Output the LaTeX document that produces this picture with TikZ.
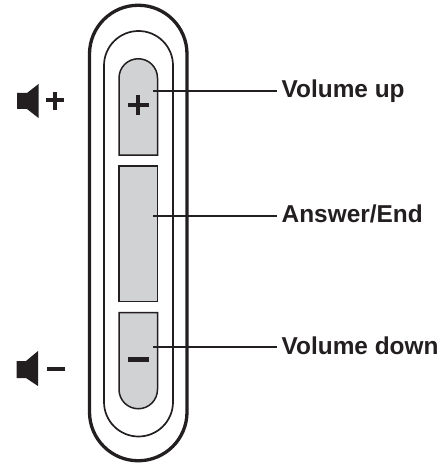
\documentclass[tikz,border=0pt]{standalone}
\usepackage{fontspec}
\setmainfont{Liberation Sans}
\definecolor{ink}{HTML}{231F20}
\definecolor{btn}{HTML}{D0D2D3}
\tikzset{
  lbl/.style={anchor=base west,inner sep=0pt,font=\fontsize{24.4}{26}\selectfont\bfseries,text=ink},
  leader/.style={draw=ink,line width=2pt},
  pill/.style={draw=ink,line width=1.5pt,fill=btn},
}
\begin{document}
\begin{tikzpicture}[x=1pt,y=-1pt]
\useasboundingbox (0,0) rectangle (445,468);
\fill[white] (0,0) rectangle (445,468);
% body
\draw[ink,line width=3.3pt] (89.5,54) arc[start angle=180,end angle=360,radius=48.75] -- (187,412) arc[start angle=0,end angle=180,radius=48.75] -- cycle;
\draw[ink,line width=1.7pt] (104,65.5) arc[start angle=180,end angle=360,radius=34.5] -- (173,402) arc[start angle=0,end angle=180,radius=34.5] -- cycle;
% buttons
\draw[pill] (119,78) arc[start angle=180,end angle=360,radius=19.25] -- (157.5,155) -- (119,155) -- cycle;
\draw[pill] (119,166) rectangle (157.5,301.5);
\draw[pill] (119,312.5) -- (157.5,312.5) -- (157.5,389.5) arc[start angle=0,end angle=180,radius=19.25] -- cycle;
% button signs
\fill[ink] (128,103) rectangle (149,107);
\fill[ink] (136,95) rectangle (140,115);
\fill[ink] (128,356.5) rectangle (149,361.5);
% speaker symbols
\fill[ink] (17,93) -- (27,93) -- (38.5,84) -- (38.5,118) -- (27,109) -- (17,109) -- cycle;
\fill[ink] (46,98.5) rectangle (64,102.5);
\fill[ink] (53,92) rectangle (57,110);
\fill[ink] (16.5,361) -- (26,361) -- (38,351) -- (38,386) -- (26,378) -- (16.5,378) -- cycle;
\fill[ink] (47,366.5) rectangle (65,371);
% labels
\node[lbl] (up) at (281.5,97.7) {Volume up};
\node[lbl] (ans) at (281.5,222.7) {Answer/End};
\node[lbl] (down) at (281.5,354.7) {Volume down};
\coordinate (a1) at (153,91);
\coordinate (a2) at (153,215.5);
\coordinate (a3) at (153,347);
\coordinate (b1) at (277,91);
\coordinate (b2) at (277,215.5);
\coordinate (b3) at (277,347);
\draw[leader] (a1) -- (b1);
\draw[leader] (a2) -- (b2);
\draw[leader] (a3) -- (b3);
\end{tikzpicture}
\end{document}
